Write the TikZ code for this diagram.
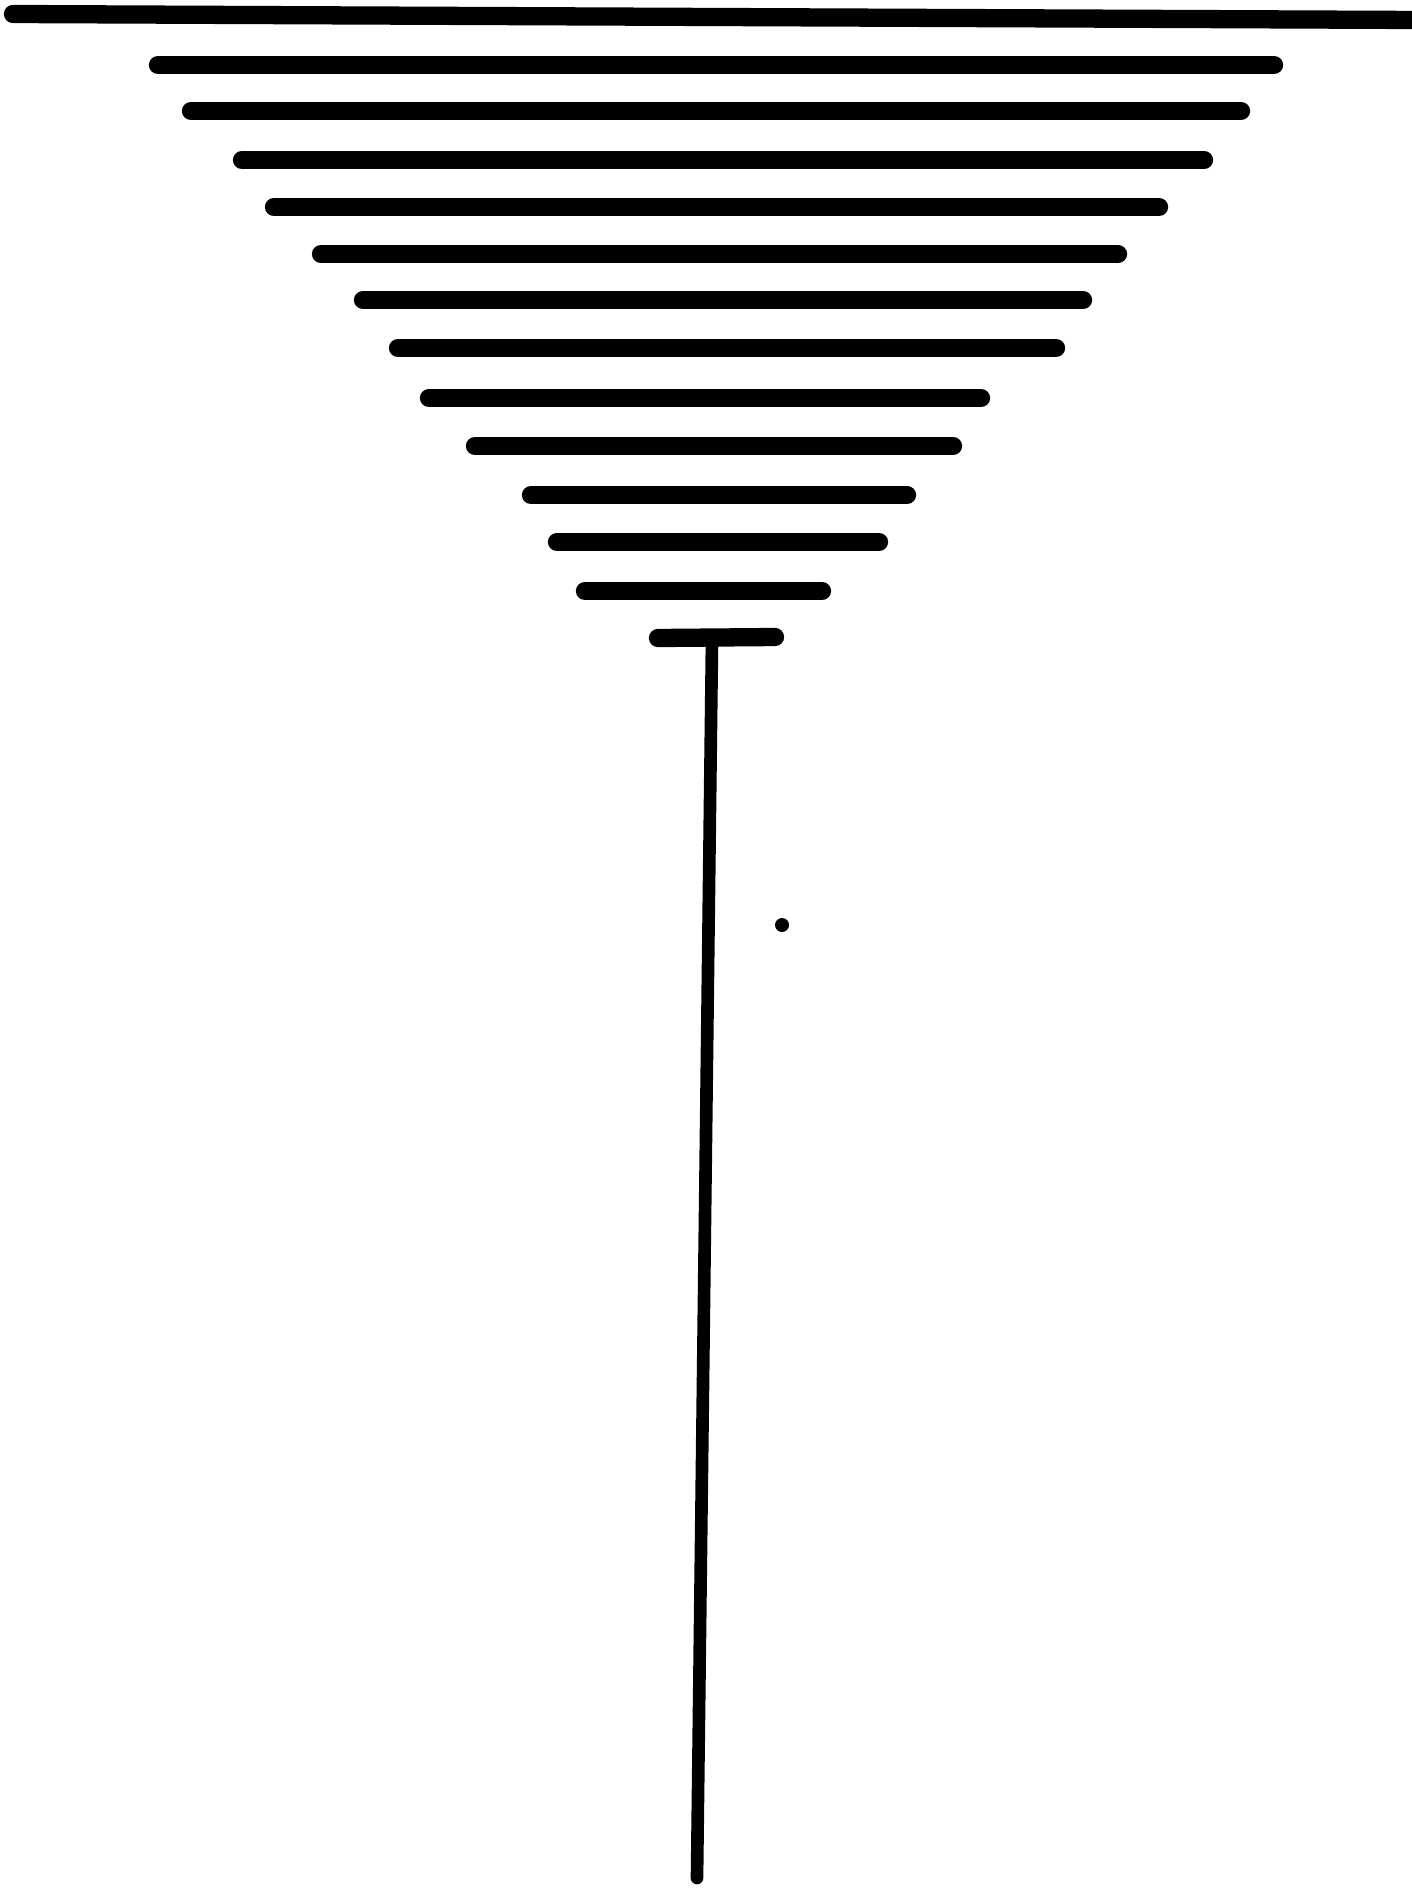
\documentclass[tikz,border=0pt]{standalone}
\usepackage{tikz}

\begin{document}
\begin{tikzpicture}[
    x=0.01cm, y=-0.01cm,
    bar/.style={line width=5.2pt, line cap=round},
    stem/.style={line width=3.6pt, line cap=round}
]
\useasboundingbox (0,0) rectangle (1411,1888);

% the stack of bars, widest on top
\draw[bar] (13,14) -- (1420,20);
\foreach \xa/\xb/\yy in {158/1274/65, 191/1241/111, 242/1204/160,
    274/1159/207, 321/1118/254, 363/1083/300, 398/1056/348,
    429/981/398, 475/953/446, 531/907/495, 557/879/542,
    585/822/591}
  \draw[bar] (\xa,\yy) -- (\xb,\yy);

% last bar and the stem
\draw[bar] (658,638) coordinate (capl) -- (775,637) coordinate (capr);
\coordinate (top) at (712,640);
\coordinate (foot) at (697,1878);
\draw[stem] (top) -- (foot);

% the dot
\fill (782,925) circle (7);
\end{tikzpicture}
\end{document}
